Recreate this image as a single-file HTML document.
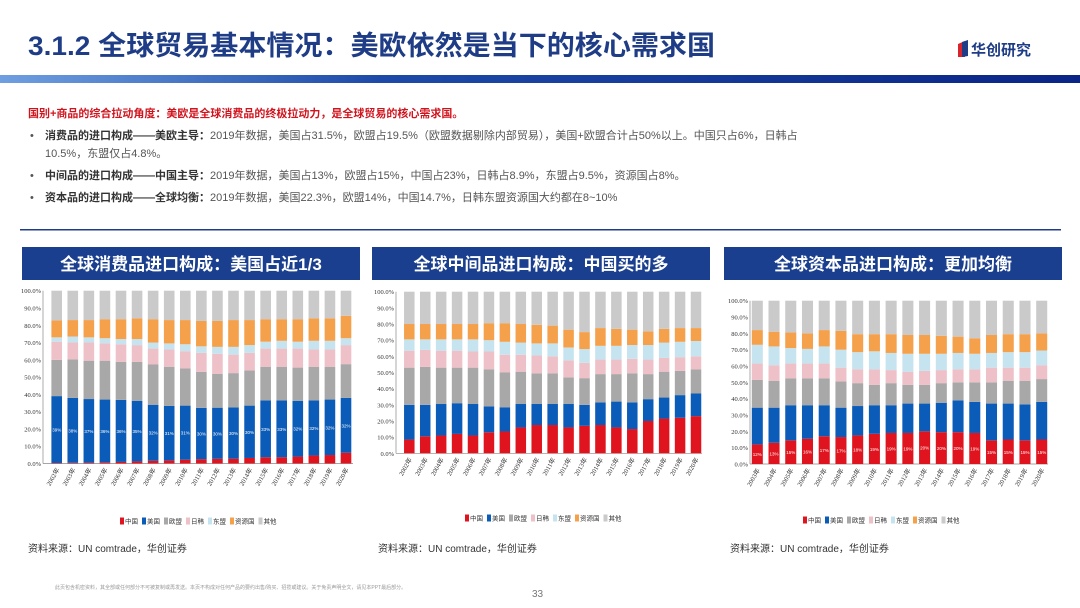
<!DOCTYPE html>
<html><head><meta charset="utf-8"><style>
body{margin:0;background:#fff;}
svg{display:block;font-family:"Liberation Sans","Noto Sans CJK SC",sans-serif;}
</style></head><body>
<svg id="page" width="1080" height="608" viewBox="0 0 1080 608">
<defs><linearGradient id="hg" x1="0" x2="1" y1="0" y2="0"><stop offset="0" stop-color="#6f9fe0"/><stop offset="0.35" stop-color="#1d4aa8"/><stop offset="1" stop-color="#0a2585"/></linearGradient></defs>
<text x="28" y="55" font-size="27" font-weight="bold" fill="#1f3d86" textLength="687" lengthAdjust="spacingAndGlyphs">3.1.2 全球贸易基本情况：美欧依然是当下的核心需求国</text>
<g><polygon points="958,44 965,41 965,57 958,57" fill="#d8242c"/><polygon points="962,42 968,40 968,56 962,57" fill="#1f3d86"/><text x="971" y="55" font-size="15" font-weight="bold" fill="#1f3d86">华创研究</text></g>
<rect x="0" y="75" width="1080" height="8" fill="url(#hg)"/>
<text x="28" y="117" font-size="11" font-weight="bold" fill="#d0141e">国别+商品的综合拉动角度：美欧是全球消费品的终极拉动力，是全球贸易的核心需求国。</text>
<g font-size="11" fill="#555">
<text x="30" y="139">•</text><text x="45" y="139"><tspan font-weight="bold" fill="#333">消费品的进口构成——美欧主导：</tspan>2019年数据，美国占31.5%，欧盟占19.5%（欧盟数据剔除内部贸易），美国+欧盟合计占50%以上。中国只占6%，日韩占</text>
<text x="45" y="157">10.5%，东盟仅占4.8%。</text>
<text x="30" y="179">•</text><text x="45" y="179"><tspan font-weight="bold" fill="#333">中间品的进口构成——中国主导：</tspan>2019年数据，美国占13%，欧盟占15%，中国占23%，日韩占8.9%，东盟占9.5%，资源国占8%。</text>
<text x="30" y="201">•</text><text x="45" y="201"><tspan font-weight="bold" fill="#333">资本品的进口构成——全球均衡：</tspan>2019年数据，美国22.3%，欧盟14%，中国14.7%，日韩东盟资源国大约都在8~10%</text>
</g>
<rect x="20" y="229" width="1041" height="1.5" fill="#1f3d86"/>
<g id="charts"></g>
<g font-size="10" fill="#333">
<text x="28" y="552">资料来源：UN comtrade，华创证券</text>
<text x="378" y="552">资料来源：UN comtrade，华创证券</text>
<text x="730" y="552">资料来源：UN comtrade，华创证券</text>
</g>
<text x="55" y="589" font-size="5" fill="#999">此页包含机密资料，其全部或任何部分不可被复制或再发送。本页不构成对任何产品的要约出售/购买、招揽或建议。关于免责声明全文，请见本PPT最后部分。</text>
<text x="532" y="597" font-size="10" fill="#777">33</text>
</svg>
<script>
// Chart 1: consumer goods (cumulative tops, %)
const years1 = ["2002年","2003年","2004年","2005年","2006年","2007年","2008年","2009年","2010年","2011年","2012年","2013年","2014年","2015年","2016年","2017年","2018年","2019年","2020年"];
const c1China = [0.3,0.4,0.5,0.7,0.9,1.2,1.6,1.8,2.2,2.5,2.7,2.8,3.2,3.6,3.6,4,4.6,4.9,6.2];
const c1US = [39,38,37.3,37,36.8,36.3,34,33.3,33.5,32.2,32.3,32.5,33.5,36.5,36.5,36.3,36.5,37,38];
const c1EU = [60,60.3,59.5,59.5,58.8,58.8,57.3,56,55,53,51.8,52.3,53.8,56,56,55.5,56,56,57.5];
const c1JK = [70.5,70,70,69.5,69,68.5,66.5,66,65,64,63.5,63,64,66.5,66.5,66.5,66,66,68.5];
const c1ASEAN = [73,73.5,73,72.5,72,72,70,69.5,69,67.8,67.5,67.5,68.5,70.5,71,70.5,71,71,72.5];
const c1Res = [82.8,83,83,83.5,83.5,84,83.5,83,83,82.5,82.5,83,83,83.5,83.5,83.5,84,84,85.5];
// Chart 2: intermediate goods
const years2 = years1;
const c2China = [8.5,10.5,11,12,11,13,13.5,16,17.5,17.5,16,17,17.5,16,15,20,21.5,22,23];
const c2US = [30,30,30.5,31,30.5,29,28.5,30.5,30.5,30.5,30.5,30,31.5,32,31.5,33.5,34.5,36,37];
const c2EU = [53,53.5,53,53,53,52,50,50.5,49.5,49.5,47,46.5,49,49,49.5,49,50.5,51,52];
const c2JK = [63.5,64,63.5,63.5,63,63,61,61,60.5,60,57.5,56,58,58,58.5,58,59,59.5,60];
const c2ASEAN = [70.5,70.5,70.5,70.5,70.5,70,69,68.5,68,68,65.5,64.5,66.5,66.5,67,67,68.5,69,69.5];
const c2Res = [80,80,80,80,80,80.5,80.5,80,79.5,79,76.5,75,77.5,77,76.5,75.5,77,77.5,77.5];
// Chart 3: capital goods
const years3 = ["2003年","2004年","2005年","2006年","2007年","2008年","2009年","2010年","2011年","2012年","2013年","2014年","2015年","2016年","2017年","2018年","2019年","2020年"];
const c3China = [12,13,14.5,15.5,17,16.5,17.5,18.5,19,19,20,19.5,19.5,19,14.5,15,14.5,15];
const c3US = [34.5,34.5,36,36,36,34.5,35.5,36,36,37,37,37.5,39,38,37,37,36.5,38];
const c3EU = [51.5,51,52.5,52.5,52.5,50.5,49.5,48.5,49.5,48.5,48.5,49.5,50,50,50,51,51,52];
const c3JK = [61.5,60.5,61.5,61.5,61.5,59,58,58,57.5,56.5,57,57.5,58,58,59,59,59,60.5];
const c3ASEAN = [73,72,71,70.5,72,70,68.5,69,68,67.5,67.5,67.5,68,67.5,68,68.5,68.5,69.5];
const c3Res = [82,81,80.5,80,82,81.5,79.5,79.5,79.5,79,79,78.5,78,77,79,79.5,79.5,80];
const yTicks = ["0.0%","10.0%","20.0%","30.0%","40.0%","50.0%","60.0%","70.0%","80.0%","90.0%","100.0%"];
const seriesNames = ["中国","美国","欧盟","日韩","东盟","资源国","其他"];
const colors = ["#e0141e","#0b5cb8","#a8a8a8","#eec0c8","#c6e4ef","#f5a04a","#cacaca"];

const NS="http://www.w3.org/2000/svg";
const root=document.getElementById('charts');
function mk(tag,attrs,parent){const e=document.createElementNS(NS,tag);for(const k in attrs)e.setAttribute(k,attrs[k]);parent.appendChild(e);return e;}

function chart(cfg){
  const g=mk('g',{},root);
  
  
  const ban=mk('rect',{x:cfg.bx,y:247,width:338,height:33,fill:'#1b3f8f'},g);
  
  
  const bt=mk('text',{x:cfg.bx+169,y:270,'text-anchor':'middle','font-size':17,'font-weight':'bold',fill:'#fff'},g);
  bt.textContent=cfg.title;
  
  
  const y=v=>cfg.y0-(cfg.y0-cfg.y100)*v/100;
  const n=cfg.years.length;
  const step=(cfg.xLast-cfg.xFirst)/(n-1);
  const x=i=>cfg.xFirst+i*step;
  const bw=step*0.66;
  yTicks.forEach((t,k)=>{
    const tx=mk('text',{x:cfg.x0-2,y:y(k*10)+2.5,'text-anchor':'end','font-size':6.5,fill:'#333','font-family':'Liberation Serif,serif'},g);
    tx.textContent=t;
    
    
  });
  mk('line',{x1:cfg.x0,x2:cfg.x0,y1:cfg.y100,y2:cfg.y0,stroke:'#888','stroke-width':0.7},g);
  mk('line',{x1:cfg.x0,x2:cfg.xEnd,y1:cfg.y0,y2:cfg.y0,stroke:'#888','stroke-width':0.7},g);
  const cums=cfg.series;
  for(let i=0;i<n;i++){
    let prev=0;
    for(let s=0;s<7;s++){
      const top=s<6?cums[s][i]:100;
      const r=mk('rect',{x:x(i)-bw/2,y:y(top),width:bw,height:Math.max(0,y(prev)-y(top)),fill:colors[s]},g);
      
      
      if(s===cfg.labelSeries){
        const lo=s===0?0:cums[s-1][i];
        const lt=mk('text',{x:x(i),y:(y(prev)+y(top))/2+2,'text-anchor':'middle','font-size':4.5,fill:'#fff'},g);
        lt.textContent=(top-lo).toFixed(0)+'%';
        
        
      }
      prev=top;
    }
    const xl=mk('text',{x:x(i)+3,y:cfg.y0+6,'text-anchor':'end','font-size':6.5,fill:'#333','font-family':'Liberation Serif,serif',transform:`rotate(-60 ${x(i)+3} ${cfg.y0+6})`},g);
    xl.textContent=cfg.years[i];
    
    
  }
  let lx=cfg.legX;
  seriesNames.forEach((nm,s)=>{
    const lg=mk('g',{},g);
    
    
    mk('rect',{x:lx,y:cfg.legY-3.5,width:4,height:7,fill:colors[s]},lg);
    const t=mk('text',{x:lx+5,y:cfg.legY+2.5,'font-size':6.5,fill:'#333'},lg);
    t.textContent=nm;
    lx+=5+nm.length*6.5+4;
  });
}
chart({name:'consumer-goods-chart',title:'全球消费品进口构成：美国占近1/3',bx:22,years:years1,
  series:[c1China,c1US,c1EU,c1JK,c1ASEAN,c1Res],x0:43,xEnd:353,y0:463.5,y100:290.7,xFirst:56.7,xLast:346,labelSeries:1,legX:120,legY:521});
chart({name:'intermediate-goods-chart',title:'全球中间品进口构成：中国买的多',bx:372,years:years2,
  series:[c2China,c2US,c2EU,c2JK,c2ASEAN,c2Res],x0:396,xEnd:702,y0:453.3,y100:291.7,xFirst:409.3,xLast:696,labelSeries:-1,legX:465,legY:518});
chart({name:'capital-goods-chart',title:'全球资本品进口构成：更加均衡',bx:724,years:years3,
  series:[c3China,c3US,c3EU,c3JK,c3ASEAN,c3Res],x0:750,xEnd:1048,y0:464,y100:300.7,xFirst:757.3,xLast:1041.7,labelSeries:0,legX:803,legY:520});
</script>
</body></html>
